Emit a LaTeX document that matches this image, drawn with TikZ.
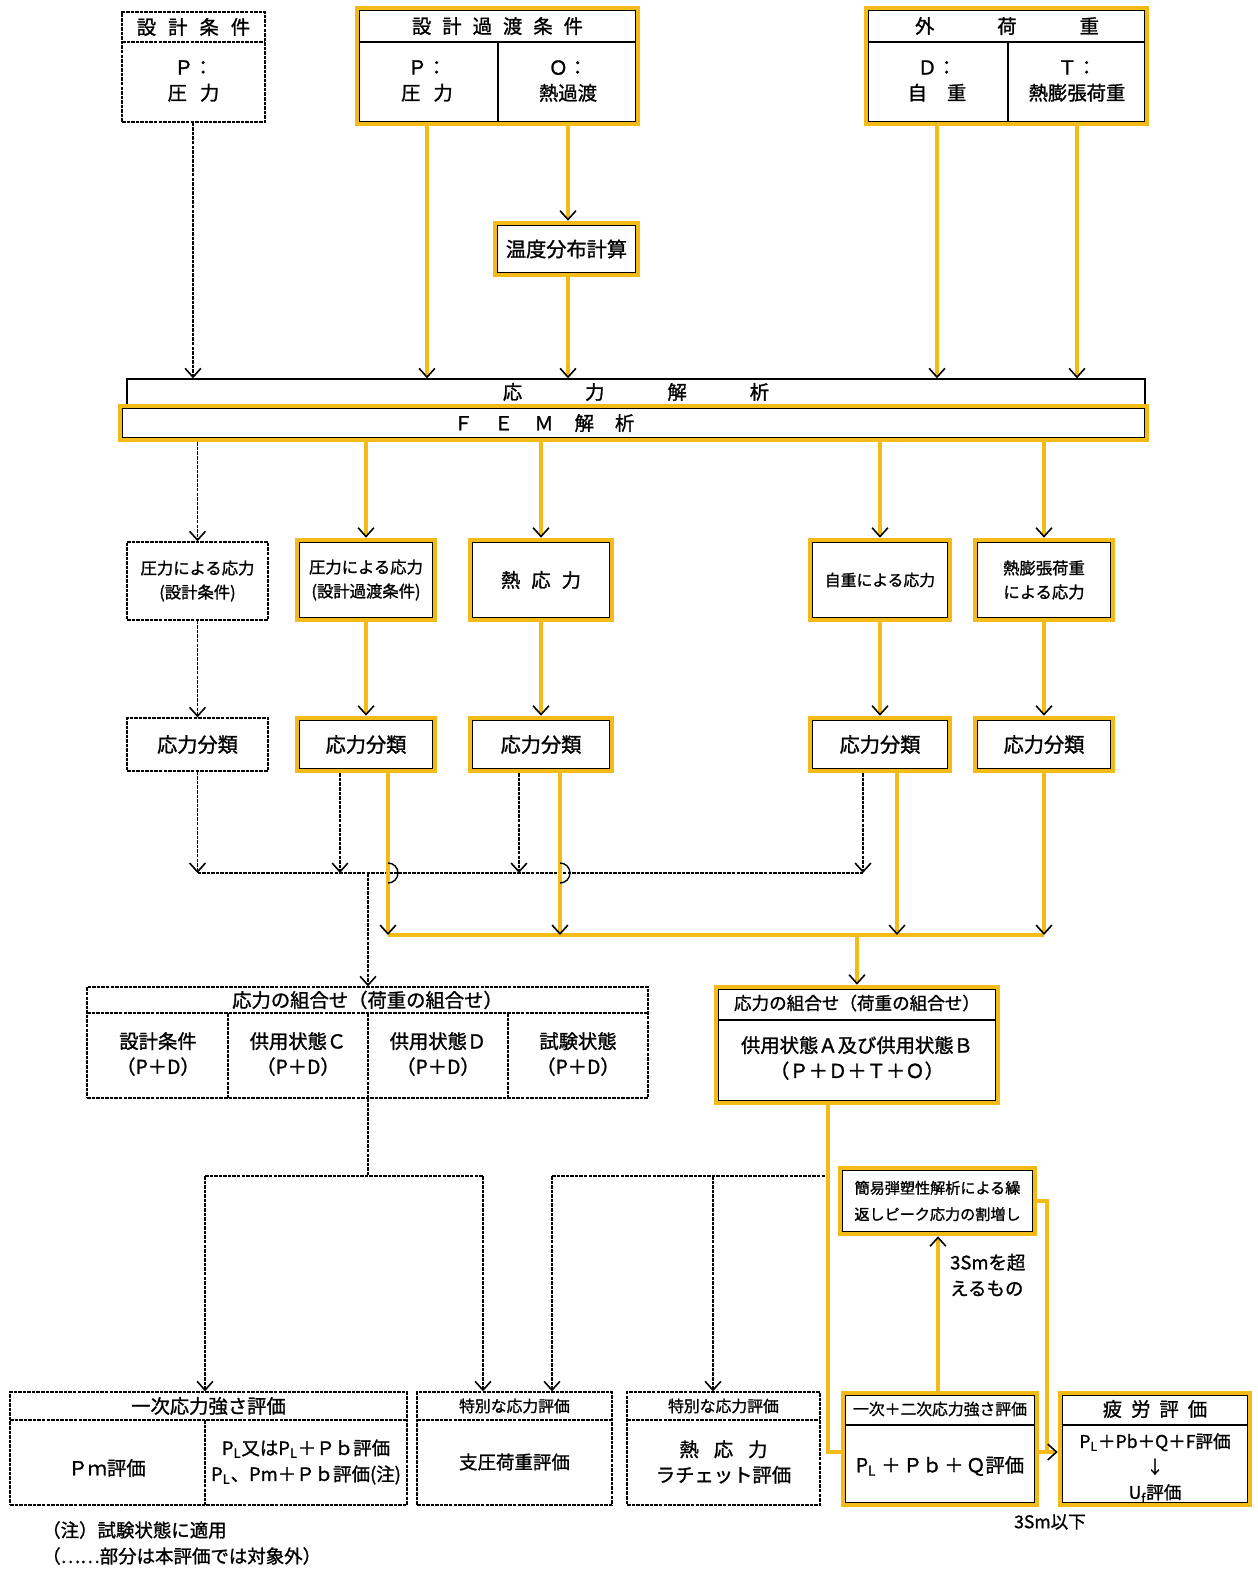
\documentclass[tikz,border=0pt]{standalone}
\usepackage{fontspec}
\setmainfont{Noto Sans CJK JP}[FakeBold=1.2]
\usetikzlibrary{arrows.meta}
\definecolor{ylw}{RGB}{243,186,24}
\newcommand\PLs{P\textsubscript{L}}
\begin{document}
\begin{tikzpicture}[x=0.02cm,y=-0.02cm,
  sz/.style 2 args={minimum width=#1*0.02cm,minimum height=#2*0.02cm,inner sep=0pt},
  ybox/.style={draw=ylw,line width=2.6pt,fill=white,
    path picture={\draw[black,line width=0.5pt]
      ([shift={(1.6pt,-1.6pt)}]path picture bounding box.north west) rectangle
      ([shift={(-1.6pt,1.6pt)}]path picture bounding box.south east);}},
  dbox/.style={draw=black,line width=0.8pt,dash pattern=on 2pt off 0.6pt,fill=white},
  bbox/.style={draw=black,line width=0.8pt,fill=white},
  yl/.style={draw=ylw,line width=2.6pt},
  dl/.style={draw=black,line width=0.8pt,dash pattern=on 2pt off 0.6pt},
  tl/.style={draw=black,line width=0.8pt},
  tip/.style={-{Straight Barb[color=black,length=5pt,width=9pt,line width=0.9pt]}},
  f86/.style={font=\fontsize{8.6}{15}\selectfont},
  f9/.style={font=\fontsize{9}{13.5}\selectfont},
  f93/.style={font=\fontsize{9.3}{13.7}\selectfont},
  f10/.style={font=\fontsize{10}{14.5}\selectfont},
  f105/.style={font=\fontsize{10.5}{14.8}\selectfont},
  f11/.style={font=\fontsize{11}{14.5}\selectfont},
  f115/.style={font=\fontsize{11.5}{15}\selectfont}]
\useasboundingbox (0,0) rectangle (1258,1573);
\fill[white] (0,0) rectangle (1258,1573);

% ---------- coordinates ----------
\coordinate (xDC) at (193,0);
\coordinate (xP) at (427,0);
\coordinate (xO) at (568,0);
\coordinate (xD) at (937,0);
\coordinate (xT) at (1077,0);
\coordinate (xbd) at (340,0);
\coordinate (xby) at (388,0);
\coordinate (xcd) at (519,0);
\coordinate (xcy) at (560,0);
\coordinate (xdd) at (863,0);
\coordinate (xdy) at (897,0);
\coordinate (yDB) at (0,873);
\coordinate (yYB) at (0,935);
\coordinate (xCL) at (368,0);
\coordinate (xCR) at (857,0);
\coordinate (yLB) at (0,1176);
\coordinate (xPR) at (205,0);
\coordinate (xS1a) at (483,0);
\coordinate (xS1b) at (552,0);
\coordinate (xS2) at (713,0);
\coordinate (xRV) at (828,0);
\coordinate (xPS) at (938,0);
\coordinate (xRR) at (1047,0);
\coordinate (yJ) at (0,1452);

% ---------- top boxes ----------
\node[dbox,sz={143}{110}] (dc) at (193.5,67) {};
\draw[dl] (122,42) -- (265,42);
\node[f11] (dch) at (193.5,27) {設\hspace{0.24cm}計\hspace{0.24cm}条\hspace{0.24cm}件};
\node[f11,align=center] (dcb) at (193.5,81) {Ｐ：\\圧\hspace{0.26cm}力};

\node[ybox,sz={281}{116}] (tc) at (497.5,66) {};
\draw[tl] (359,42) -- (636,42);
\draw[tl] (498,42) -- (498,122);
\node[f11] (tch) at (497.5,26) {設\hspace{0.22cm}計\hspace{0.22cm}過\hspace{0.22cm}渡\hspace{0.22cm}条\hspace{0.22cm}件};
\node[f11,align=center] (tcp) at (427,81) {Ｐ：\\圧\hspace{0.26cm}力};
\node[f11,align=center] (tco) at (568,81) {Ｏ：\\熱過渡};

\node[ybox,sz={281}{116}] (ext) at (1006.5,66) {};
\draw[tl] (868,42) -- (1145,42);
\draw[tl] (1008,42) -- (1008,122);
\node[f11] (exth) at (1007,26) {外\hspace{1.26cm}荷\hspace{1.26cm}重};
\node[f11,align=center] (extd) at (937,81) {Ｄ：\\自\hspace{0.4cm}重};
\node[f11,align=center] (extt) at (1077,81) {Ｔ：\\熱膨張荷重};

\node[ybox,sz={143}{52},f115] (temp) at (566.5,249) {温度分布計算};

% ---------- analysis bars ----------
\node[bbox,sz={1018}{26},f11] (sa) at (636,392) {応\hspace{1.26cm}力\hspace{1.26cm}解\hspace{1.26cm}析};
\node[ybox,sz={1027}{34}] (fem) at (633.5,423) {};
\node[f11] (femt) at (544,423) {Ｆ\hspace{0.42cm}Ｅ\hspace{0.42cm}Ｍ\hspace{0.42cm}解\hspace{0.42cm}析};

% ---------- row 1 ----------
\node[dbox,sz={141}{78},f93,align=center] (r1a) at (197.5,581) {圧力による応力\\(設計条件)};
\node[ybox,sz={138}{80},f93,align=center] (r1b) at (366,580) {圧力による応力\\(設計過渡条件)};
\node[ybox,sz={142}{80},f11] (r1c) at (541,580) {熱\hspace{0.22cm}応\hspace{0.22cm}力};
\node[ybox,sz={140}{80},f9] (r1d) at (880,580) {自重による応力};
\node[ybox,sz={138}{80},f93,align=center] (r1e) at (1044,580) {熱膨張荷重\\による応力};

% ---------- row 2 ----------
\node[dbox,sz={141}{53},f115] (r2a) at (197.5,744.5) {応力分類};
\node[ybox,sz={138}{53},f115] (r2b) at (366,744.5) {応力分類};
\node[ybox,sz={142}{53},f115] (r2c) at (541,744.5) {応力分類};
\node[ybox,sz={140}{53},f115] (r2d) at (880,744.5) {応力分類};
\node[ybox,sz={138}{53},f115] (r2e) at (1044,744.5) {応力分類};

% ---------- combinations ----------
\node[dbox,sz={561}{111}] (cl) at (367.5,1042.5) {};
\draw[dl] (87,1013) -- (648,1013);
\draw[dl] (228,1013) -- (228,1098);
\draw[dl] (368,1013) -- (368,1098);
\draw[dl] (508,1013) -- (508,1098);
\node[f11] (clh) at (367.5,1000) {応力の組合せ（荷重の組合せ）};
\node[f11,align=center] (cl1) at (158,1054) {設計条件\\（P＋D）};
\node[f11,align=center] (cl2) at (298,1054) {供用状態Ｃ\\（P＋D）};
\node[f11,align=center] (cl3) at (438,1054) {供用状態Ｄ\\（P＋D）};
\node[f11,align=center] (cl4) at (578,1054) {試験状態\\（P＋D）};

\node[ybox,sz={282}{116}] (cr) at (857,1045) {};
\draw[tl] (718,1020) -- (996,1020);
\node[f10] (crh) at (857,1003) {応力の組合せ（荷重の組合せ）};
\node[f11,align=center] (crb) at (857,1058) {供用状態Ａ及び供用状態Ｂ\\（Ｐ＋Ｄ＋Ｔ＋Ｏ）};

% ---------- peak stress box ----------
\node[ybox,sz={195}{66},f86,align=center] (easy) at (937.5,1201) {簡易弾塑性解析による繰\\返しピーク応力の割増し};

% ---------- bottom row ----------
\node[dbox,sz={397}{113}] (pr) at (208.5,1448.5) {};
\draw[dl] (10,1420) -- (407,1420);
\draw[dl] (205,1420) -- (205,1505);
\node[f11] (prh) at (208.5,1406) {一次応力強さ評価};
\node[f11] (prl) at (107,1468) {Ｐｍ評価};
\node[f105,align=center] (prr) at (306,1462) {\PLs 又は\PLs＋Ｐｂ評価\\\PLs、Pm＋Ｐｂ評価(注)};

\node[dbox,sz={195}{113}] (sp1) at (514.5,1448.5) {};
\draw[dl] (417,1420) -- (612,1420);
\node[f9] (sp1h) at (514.5,1406) {特別な応力評価};
\node[f105] (sp1b) at (514.5,1462) {支圧荷重評価};

\node[dbox,sz={193}{113}] (sp2) at (723.5,1448.5) {};
\draw[dl] (627,1420) -- (820,1420);
\node[f9] (sp2h) at (723.5,1406) {特別な応力評価};
\node[f11,align=center] (sp2b) at (723.5,1462) {熱\hspace{0.3cm}応\hspace{0.3cm}力\\ラチェット評価};

\node[ybox,sz={194}{112}] (ps) at (940,1449) {};
\draw[tl] (845,1425) -- (1035,1425);
\node[f9] (psh) at (940,1409) {一次＋二次応力強さ評価};
\node[f11] (psb) at (940,1466) {\PLs\hspace{0.1cm}＋\hspace{0.05cm}Ｐｂ\hspace{0.05cm}＋\hspace{0.05cm}Ｑ評価};

\node[ybox,sz={190}{112}] (fat) at (1155,1449) {};
\draw[tl] (1062,1425) -- (1248,1425);
\node[f11] (fath) at (1155,1409) {疲\hspace{0.18cm}労\hspace{0.18cm}評\hspace{0.18cm}価};
\node[f10,align=center] (fatb) at (1155,1468) {\PLs＋Pb＋Q＋F評価\\↓\\U\textsubscript{f}評価};

% ---------- labels ----------
\node[f105,align=left,anchor=west] (lbx) at (944,1275) {3Smを超\\えるもの};
\node[f10] (lbl) at (1050,1522) {3Sm以下};
\node[f105,anchor=west] (n1) at (36,1530) {（注）試験状態に適用};
\node[f105,anchor=west] (n2) at (36,1556) {（……部分は本評価では対象外）};

% ---------- connectors: top ----------
\draw[dl,tip] (dc.south -| xDC) -- (sa.north -| xDC);
\draw[yl,tip] (tc.south -| xP) -- (sa.north -| xP);
\draw[yl,tip] (tc.south -| xO) -- (temp.north -| xO);
\draw[yl,tip] (temp.south -| xO) -- (sa.north -| xO);
\draw[yl,tip] (ext.south -| xD) -- (sa.north -| xD);
\draw[yl,tip] (ext.south -| xT) -- (sa.north -| xT);

% ---------- FEM to row 1 to row 2 ----------
\draw[dl,tip] (fem.south -| r1a.north) -- (r1a.north);
\foreach \n in {r1b,r1c,r1d,r1e}{\draw[yl,tip] (fem.south -| \n.north) -- (\n.north);}
\draw[dl,tip] (r1a.south) -- (r2a.north);
\draw[yl,tip] (r1b.south) -- (r2b.north);
\draw[yl,tip] (r1c.south) -- (r2c.north);
\draw[yl,tip] (r1d.south) -- (r2d.north);
\draw[yl,tip] (r1e.south) -- (r2e.north);

% ---------- buses ----------
\draw[dl] (r2a.south |- yDB) -- (xdd |- yDB);
\draw[dl,tip] (r2a.south) -- (r2a.south |- yDB);
\draw[dl,tip] (r2b.south -| xbd) -- (xbd |- yDB);
\draw[dl,tip] (r2c.south -| xcd) -- (xcd |- yDB);
\draw[dl,tip] (r2d.south -| xdd) -- (xdd |- yDB);
\draw[dl,tip] (xCL |- yDB) -- (cl.north -| xCL);

\draw[yl] (xby |- yYB) -- (r2e.south |- yYB);
\draw[yl,tip] (r2b.south -| xby) -- (xby |- yYB);
\draw[yl,tip] (r2c.south -| xcy) -- (xcy |- yYB);
\draw[yl,tip] (r2d.south -| xdy) -- (xdy |- yYB);
\draw[yl,tip] (r2e.south) -- (r2e.south |- yYB);
\draw[yl,tip] (xCR |- yYB) -- (cr.north -| xCR);
\draw[tl] (xby |- yDB) ++(0,-10) arc[start angle=90,end angle=-90,radius=0.2cm];
\draw[tl] (xcy |- yDB) ++(0,-10) arc[start angle=90,end angle=-90,radius=0.2cm];

% ---------- lower dashed distribution ----------
\draw[dl] (cl.south -| xCL) -- (xCL |- yLB);
\draw[dl] (xPR |- yLB) -- (xS1a |- yLB);
\draw[dl,tip] (xPR |- yLB) -- (pr.north -| xPR);
\draw[dl,tip] (xS1a |- yLB) -- (sp1.north -| xS1a);
\draw[dl] (xS1b |- yLB) -- (xRV |- yLB);
\draw[dl,tip] (xS1b |- yLB) -- (sp1.north -| xS1b);
\draw[dl,tip] (xS2 |- yLB) -- (sp2.north -| xS2);

% ---------- right evaluation path ----------
\draw[yl] (cr.south -| xRV) -- (xRV |- yJ) -- (ps.west |- yJ);
\draw[yl,tip] (ps.north -| xPS) -- (easy.south -| xPS);
\draw[yl] (ps.east |- yJ) -- (xRR |- yJ);
\draw[yl,tip] (easy.east) -| (xRR |- yJ) -- (fat.west |- yJ);
\end{tikzpicture}
\end{document}
